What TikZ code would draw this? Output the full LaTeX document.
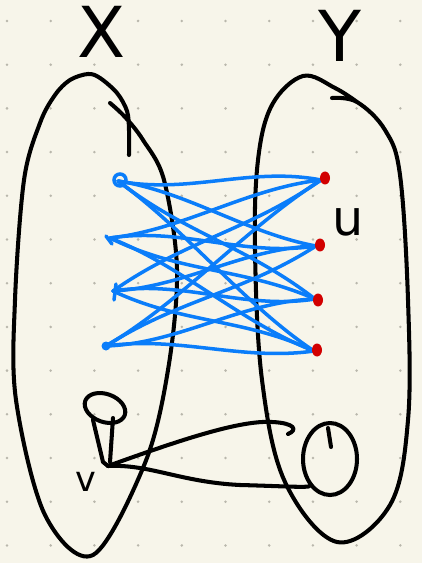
\documentclass[tikz,border=0pt]{standalone}
\usepackage{fontspec}
\setmainfont{DejaVu Sans}
\usetikzlibrary{calc,shapes.geometric}
\definecolor{paper}{RGB}{247,245,234}
\definecolor{griddot}{RGB}{185,183,172}
\definecolor{penblue}{RGB}{10,125,250}
\definecolor{penred}{RGB}{210,0,0}
\begin{document}
\begin{tikzpicture}[x=0.02cm,y=-0.02cm,
  ink/.style={line width=2.3pt,line cap=round,line join=round,black},
  bedge/.style={line width=2pt,line cap=round,penblue},
  reddot/.style={ellipse,fill=penred,inner sep=0pt,minimum width=0.2cm,minimum height=0.26cm},
  lab/.style={inner sep=0pt}]
\fill[paper] (0,0) rectangle (422,563);
\useasboundingbox (0,0) rectangle (422,563);
\foreach \gx in {0,...,9}{\foreach \gy in {0,...,12}{
  \fill[griddot] ({7+43.7*\gx},{21+43.7*\gy}) circle (1.4);}}
% labels
\node[lab] (labX) at (102,32) {\fontsize{40}{40}\selectfont X};
\node[lab] (labY) at (340,36) {\fontsize{40}{40}\selectfont Y};
\node[lab] (labu) at (348,222) {\fontsize{28}{28}\selectfont u};
\node[lab] (labv) at (86,482) {\fontsize{20}{20}\selectfont v};
% blob X (open stroke crossing itself at the top)
\draw[ink] plot[smooth,tension=0.55] coordinates {(129,155) (129,130) (127,111) (117,93) (100,78) (88,74) (70,80) (55,95) (40,123) (24,180) (15,300) (16,400) (45,515) (93,555) (145,463) (168,370) (177,270) (164,180) (143,140) (125,117) (110,103)};
% blob Y
\draw[ink] plot[smooth,tension=0.6] coordinates {(332,98) (357,102) (385,130) (400,175) (408,300) (408,420) (390,505) (337,542) (285,482) (262,380) (255,250) (258,160) (272,105) (303,76) (335,88) (357,102)};
% left and right vertices
\coordinate (L1) at (118,181);
\coordinate (L2) at (110,238);
\coordinate (L3) at (113,291);
\coordinate (L4) at (106,346);
\coordinate (R1) at (321,180);
\coordinate (R2) at (316,246);
\coordinate (R3) at (315,299);
\coordinate (R4) at (314,351);
\foreach \i/\j/\ay/\by in {
 1/1/14/-14, 1/2/-12/10, 1/3/12/-12, 1/4/-10/14,
 2/1/12/-12, 2/2/-14/14, 2/3/14/-10, 2/4/-12/12,
 3/1/-12/12, 3/2/12/-14, 3/3/-14/14, 3/4/12/-12,
 4/1/14/-10, 4/2/-12/12, 4/3/14/-14, 4/4/-12/12}{
  \draw[bedge] (L\i) .. controls ($(L\i)!0.35!(R\j)+(0,\ay)$) and ($(L\i)!0.65!(R\j)+(0,\by)$) .. (R\j);}
\draw[bedge] (120,180) circle (6);
\draw[bedge] (106,236) -- (112,244);
\draw[bedge] (116,284) -- (114,300);
\fill[penblue] (106,346) circle (4.5);
\node[reddot] (r1) at (325,178) {};
\node[reddot] (r2) at (320,245) {};
\node[reddot] (r3) at (318,300) {};
\node[reddot] (r4) at (317,350) {};
% vertex v with loop
\coordinate (v) at (108,466);
\draw[ink,rotate around={-20:(105,408)}] (105,408) ellipse (21 and 14);
\draw[ink] (93,420) -- (103,462) -- (v);
\draw[ink] (113,418) -- (110,462);
% circle on the right
\node[ellipse,draw,ink,minimum width=1.08cm,minimum height=1.44cm] (C) at (330,459) {};
\draw[ink] (328,428) -- (331,447);
\draw[ink] (v) .. controls (180,440) and (240,420) .. (272,422) .. controls (295,423) and (298,430) .. (288,434);
\draw[ink] (v) .. controls (150,464) and (180,482) .. (240,485) .. controls (280,486) and (310,488) .. (C.south west);
\end{tikzpicture}
\end{document}
